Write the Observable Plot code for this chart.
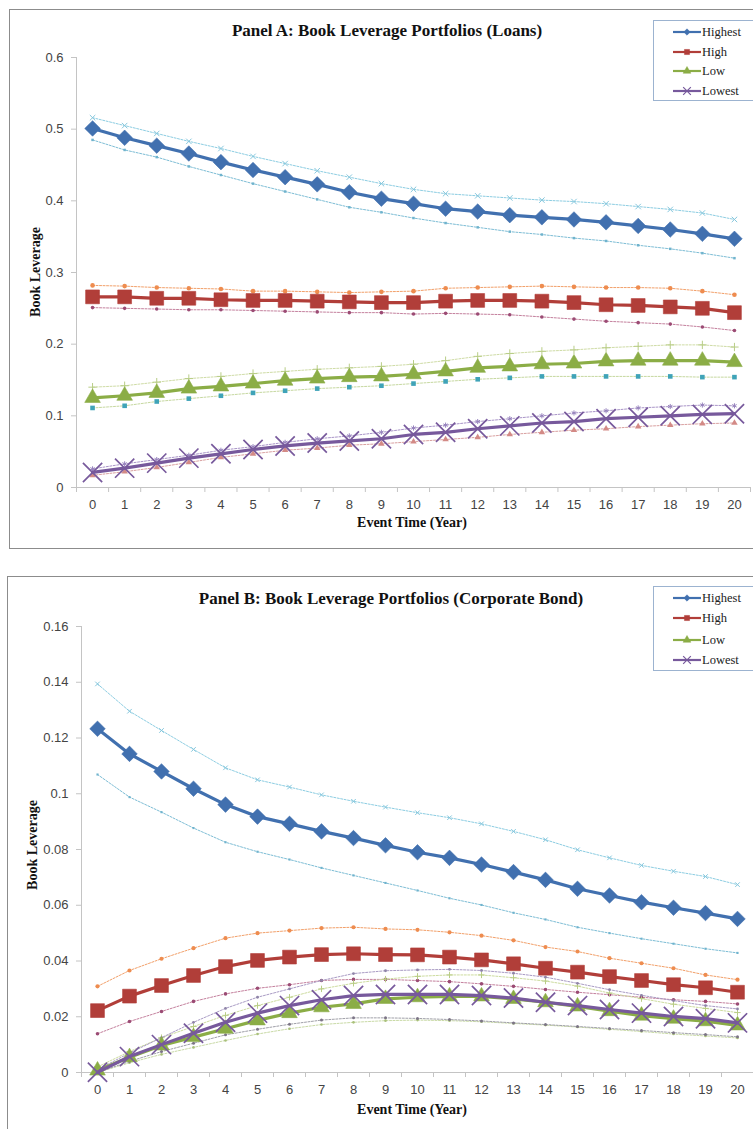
<!DOCTYPE html>
<html><head><meta charset="utf-8">
<script src="https://cdn.jsdelivr.net/npm/d3@7"></script>
<script src="https://cdn.jsdelivr.net/npm/@observablehq/plot@0.6"></script>
<style>
html,body{margin:0;padding:0;background:#fff}
body{width:753px;height:1129px;overflow:hidden;position:relative;font-family:"Liberation Serif",serif}
.frame{position:absolute;border:1.5px solid #8c8c8c;box-sizing:border-box}
.title{position:absolute;font-family:"Liberation Serif",serif;font-weight:bold;font-size:17px;white-space:nowrap;transform:translate(-50%,-50%);color:#111}
.xlab{position:absolute;font-family:"Liberation Serif",serif;font-weight:bold;font-size:14px;white-space:nowrap;transform:translate(-50%,-50%);color:#111}
.ylab{position:absolute;font-family:"Liberation Serif",serif;font-weight:bold;font-size:14px;white-space:nowrap;transform:translate(-50%,-50%) rotate(-90deg);color:#111}
.plot{position:absolute;left:0}
.legend{position:absolute;border:1px solid #9cb3d0;background:#fff;box-sizing:border-box}
.lrow{position:absolute;left:19px;height:16px;display:flex;align-items:center;transform:translateY(-50%);font-size:12.5px;font-family:"Liberation Serif",serif;color:#222;white-space:nowrap}
.lrow svg{display:block;margin-right:1px}
</style>
</head><body>
<div class="frame" style="left:9px;top:9px;width:760px;height:540px"></div>
<div class="frame" style="left:7px;top:576px;width:760px;height:570px"></div>
<div id="plotA" class="plot" style="top:0px"></div>
<div id="plotB" class="plot" style="top:576px"></div>
<div class="title" style="left:387px;top:31px">Panel A: Book Leverage Portfolios (Loans)</div>
<div class="title" style="left:391px;top:599px">Panel B: Book Leverage Portfolios (Corporate Bond)</div>
<div class="xlab" style="left:412px;top:523px">Event Time (Year)</div>
<div class="xlab" style="left:412px;top:1110px">Event Time (Year)</div>
<div class="ylab" style="left:36px;top:272px">Book Leverage</div>
<div class="ylab" style="left:33px;top:845px">Book Leverage</div>
<div id="legA" class="legend" style="left:653px;top:20px;width:110px;height:81px"></div>
<div id="legB" class="legend" style="left:653px;top:586px;width:110px;height:85px"></div>
<script>
// ---- categories ----
const years = [0,1,2,3,4,5,6,7,8,9,10,11,12,13,14,15,16,17,18,19,20];
const seriesNames = ["Highest","High","Low","Lowest"];
const yTicksA = [0,0.1,0.2,0.3,0.4,0.5,0.6];
const yTicksB = [0,0.02,0.04,0.06,0.08,0.1,0.12,0.14,0.16];

// ---- Panel A: Loans ----
const A_highest    = [0.501,0.488,0.477,0.466,0.454,0.443,0.433,0.423,0.412,0.403,0.396,0.389,0.385,0.380,0.377,0.374,0.370,0.365,0.360,0.354,0.347];
const A_highest_up = [0.516,0.505,0.494,0.483,0.473,0.462,0.452,0.442,0.433,0.424,0.416,0.410,0.407,0.404,0.401,0.399,0.396,0.392,0.388,0.383,0.374];
const A_highest_lo = [0.485,0.471,0.461,0.448,0.436,0.424,0.413,0.402,0.391,0.384,0.376,0.369,0.363,0.357,0.353,0.348,0.344,0.338,0.333,0.327,0.320];
const A_high       = [0.266,0.266,0.264,0.264,0.262,0.261,0.261,0.260,0.259,0.258,0.258,0.260,0.261,0.261,0.260,0.258,0.255,0.254,0.252,0.250,0.244];
const A_high_up    = [0.282,0.281,0.279,0.278,0.277,0.274,0.274,0.273,0.272,0.273,0.274,0.278,0.279,0.280,0.281,0.280,0.279,0.279,0.278,0.274,0.269];
const A_high_lo    = [0.251,0.250,0.249,0.248,0.248,0.247,0.246,0.245,0.244,0.244,0.242,0.243,0.242,0.241,0.238,0.235,0.232,0.230,0.228,0.224,0.219];
const A_low        = [0.125,0.128,0.132,0.138,0.141,0.145,0.149,0.152,0.154,0.155,0.158,0.162,0.167,0.169,0.172,0.173,0.176,0.177,0.177,0.177,0.175];
const A_low_up     = [0.140,0.142,0.147,0.152,0.155,0.159,0.162,0.165,0.167,0.169,0.172,0.177,0.183,0.187,0.190,0.192,0.195,0.197,0.199,0.199,0.196];
const A_low_lo     = [0.111,0.114,0.120,0.124,0.128,0.132,0.135,0.138,0.140,0.142,0.145,0.148,0.151,0.153,0.155,0.155,0.155,0.155,0.155,0.154,0.154];
const A_lowest     = [0.021,0.027,0.034,0.041,0.047,0.053,0.058,0.062,0.065,0.068,0.074,0.077,0.082,0.086,0.090,0.092,0.096,0.098,0.100,0.102,0.103];
const A_lowest_up  = [0.026,0.033,0.039,0.045,0.052,0.057,0.063,0.068,0.072,0.077,0.083,0.087,0.092,0.096,0.100,0.104,0.107,0.111,0.113,0.115,0.114];
const A_lowest_lo  = [0.017,0.022,0.028,0.035,0.042,0.047,0.052,0.055,0.059,0.061,0.064,0.067,0.070,0.074,0.077,0.080,0.082,0.085,0.087,0.089,0.090];

// ---- Panel B: Corporate Bond ----
const B_highest    = [0.1233,0.1143,0.1080,0.1018,0.0961,0.0918,0.0892,0.0865,0.0841,0.0815,0.0790,0.0770,0.0746,0.0719,0.0691,0.0659,0.0635,0.0611,0.0591,0.0572,0.0551];
const B_highest_up = [0.1394,0.1296,0.1227,0.1159,0.1093,0.1050,0.1024,0.0996,0.0973,0.0952,0.0932,0.0914,0.0892,0.0865,0.0835,0.0799,0.0770,0.0743,0.0722,0.0703,0.0674];
const B_highest_lo = [0.1069,0.0988,0.0934,0.0877,0.0826,0.0792,0.0764,0.0734,0.0707,0.0680,0.0653,0.0625,0.0601,0.0573,0.0549,0.0521,0.0500,0.0480,0.0462,0.0444,0.0429];
const B_high       = [0.0222,0.0274,0.0312,0.0348,0.0380,0.0402,0.0414,0.0423,0.0426,0.0423,0.0422,0.0414,0.0404,0.0390,0.0374,0.0360,0.0344,0.0330,0.0315,0.0304,0.0288];
const B_high_up    = [0.0309,0.0366,0.0408,0.0446,0.0482,0.0500,0.0509,0.0518,0.0521,0.0515,0.0512,0.0503,0.0491,0.0474,0.0450,0.0434,0.0410,0.0392,0.0374,0.0350,0.0333];
const B_high_lo    = [0.0139,0.0183,0.0219,0.0255,0.0282,0.0302,0.0315,0.0330,0.0334,0.0334,0.0330,0.0326,0.0318,0.0309,0.0298,0.0288,0.0279,0.0270,0.0261,0.0255,0.0246];
const B_low        = [0.0007,0.0055,0.0097,0.0127,0.0157,0.0187,0.0213,0.0234,0.0246,0.0264,0.0270,0.0273,0.0273,0.0264,0.0252,0.0237,0.0220,0.0204,0.0193,0.0184,0.0169];
const B_low_up     = [0.0020,0.0075,0.0125,0.0165,0.0205,0.0240,0.0270,0.0300,0.0320,0.0335,0.0345,0.0350,0.0350,0.0340,0.0328,0.0310,0.0285,0.0265,0.0245,0.0230,0.0215];
const B_low_lo     = [0.0000,0.0035,0.0065,0.0090,0.0115,0.0138,0.0157,0.0172,0.0180,0.0186,0.0188,0.0186,0.0182,0.0176,0.0170,0.0163,0.0155,0.0147,0.0138,0.0131,0.0124];
const B_lowest     = [0.0001,0.0057,0.0100,0.0141,0.0180,0.0213,0.0240,0.0261,0.0276,0.0280,0.0280,0.0280,0.0276,0.0267,0.0252,0.0240,0.0226,0.0213,0.0201,0.0193,0.0178];
const B_lowest_up  = [0.0010,0.0070,0.0125,0.0180,0.0230,0.0270,0.0300,0.0330,0.0355,0.0365,0.0368,0.0370,0.0366,0.0356,0.0342,0.0320,0.0297,0.0277,0.0258,0.0240,0.0228];
const B_lowest_lo  = [0.0000,0.0040,0.0075,0.0105,0.0135,0.0155,0.0173,0.0188,0.0196,0.0196,0.0194,0.0190,0.0185,0.0178,0.0172,0.0165,0.0158,0.0151,0.0143,0.0136,0.0128];

// ---- styles ----
const mainStyle = {
  Highest: {color:"#4170AF", symbol:"diamond2", r:7,   fill:true},
  High:    {color:"#B13E39", symbol:"square",   r:7.8, fill:true},
  Low:     {color:"#8BAD46", symbol:"triangle", r:5.8, fill:true},
  Lowest:  {color:"#77599C", symbol:"times",    r:8.8, fill:false}
};
const bandStyleA = [
  {line:"#8ccde2", mark:"#86c7dd", symbol:"times",    r:2.6, fill:false},
  {line:"#7dbdd5", mark:"#6fb3cd", symbol:"square",   r:1.4, fill:true},
  {line:"#f2a06a", mark:"#ee8c4f", symbol:"circle",   r:2.3, fill:true},
  {line:"#c4809d", mark:"#9b4b74", symbol:"circle",   r:1.8, fill:true},
  {line:"#cfdca6", mark:"#b8cd86", symbol:"plus",     r:2.8, fill:false},
  {line:"#c6d8a0", mark:"#3fa3b8", symbol:"square",   r:2.6, fill:true},
  {line:"#a994c8", mark:"#9682bd", symbol:"asterisk", r:2.4, fill:false},
  {line:"#d9a0a0", mark:"#d38a86", symbol:"triangle", r:2.4, fill:true}
];
const bandStyleB = [
  {line:"#8ccde2", mark:"#86c7dd", symbol:"times",    r:2.2, fill:false},
  {line:"#7dbdd5", mark:"#6fb3cd", symbol:"square",   r:1.2, fill:true},
  {line:"#f2a06a", mark:"#ee8c4f", symbol:"circle",   r:2.1, fill:true},
  {line:"#c4809d", mark:"#9b4b74", symbol:"circle",   r:1.8, fill:true},
  {line:"#cddc9f", mark:"#b9cd86", symbol:"plus",     r:2.2, fill:false},
  {line:"#c9daa6", mark:"#a9c07a", symbol:"circle",   r:1.3, fill:true},
  {line:"#a99bc4", mark:"#8f84a8", symbol:"circle",   r:1.4, fill:true},
  {line:"#a0a0a8", mark:"#7c7486", symbol:"circle",   r:1.5, fill:true}
];

function rows(vals){ return years.map((t,i)=>({t, v: vals[i]})); }

function bandMarks(vals, st){
  const d = rows(vals);
  return [
    Plot.line(d, {x:"t", y:"v", stroke:st.line, strokeWidth:1, strokeDasharray:"2,1.5"}),
    Plot.dot(d, {x:"t", y:"v", symbol: st.symbol, r: st.r,
      fill: st.fill ? st.mark : "none", stroke: st.fill ? "none" : st.mark, strokeWidth:1})
  ];
}
function mainMarks(vals, st){
  const d = rows(vals);
  return [
    Plot.line(d, {x:"t", y:"v", stroke:st.color, strokeWidth:3.2}),
    Plot.dot(d, {x:"t", y:"v", symbol: st.symbol, r: st.r,
      fill: st.fill ? st.color : "none", stroke: st.color, strokeWidth: st.fill ? 0.6 : 1.7})
  ];
}

function panel(opts){
  const {height, top, bottom, left, right, yMax, yTicks, bands, mains, bstyle} = opts;
  const boundaries = d3.range(-0.5, 21, 1);
  return Plot.plot({
    width:753, height, marginTop:top, marginBottom:bottom, marginLeft:left, marginRight:right,
    x:{domain:[-0.5,20.5], axis:null, label:null},
    y:{domain:[0,yMax], axis:null, label:null},
    style:{background:"transparent", fontFamily:"'Liberation Sans', Arial, sans-serif", fontSize:"13px", overflow:"visible"},
    marks:[
      Plot.ruleX([-0.5], {stroke:"#c4c4c4", strokeWidth:1}),
      Plot.ruleY([0], {stroke:"#c4c4c4", strokeWidth:1}),
      Plot.axisY({ticks:yTicks, tickSize:5, tickFormat:()=>"", color:"#c4c4c4", label:null}),
      Plot.axisY({ticks:yTicks, tickSize:0, tickPadding:13, tickFormat:d=>String(d), color:"#444", fontSize:13, label:null}),
      Plot.axisX({ticks:boundaries, tickSize:5, tickFormat:()=>"", color:"#c4c4c4", label:null}),
      Plot.axisX({ticks:years, tickSize:0, tickPadding:12, tickFormat:d=>String(d), color:"#444", fontSize:13, label:null}),
      ...bands.flatMap((b,i)=>bandMarks(b, bstyle[i])),
      ...mains.flatMap((m,i)=>mainMarks(m, mainStyle[seriesNames[i]]))
    ]
  });
}

document.getElementById("plotA").append(panel({
  height:549, top:57, bottom:62, left:76, right:3, yMax:0.6, yTicks:yTicksA,
  bands:[A_highest_up, A_highest_lo, A_high_up, A_high_lo, A_low_up, A_low_lo, A_lowest_up, A_lowest_lo],
  mains:[A_highest, A_high, A_low, A_lowest], bstyle: bandStyleA
}));
document.getElementById("plotB").append(panel({
  height:553, top:50, bottom:57, left:81, right:0, yMax:0.16, yTicks:yTicksB,
  bands:[B_highest_up, B_highest_lo, B_high_up, B_high_lo, B_low_up, B_low_lo, B_lowest_up, B_lowest_lo],
  mains:[B_highest, B_high, B_low, B_lowest], bstyle: bandStyleB
}));

// ---- legends ----
function symbolPath(name, size){
  const map = {diamond2:d3.symbolDiamond2, square:d3.symbolSquare, triangle:d3.symbolTriangle, times:d3.symbolTimes};
  return d3.symbol(map[name], size)();
}
function legend(id, rowsY){
  const el = document.getElementById(id);
  seriesNames.forEach((name,i)=>{
    const st = mainStyle[name];
    const row = document.createElement("div");
    row.className = "lrow";
    row.style.top = rowsY[i] + "px";
    const ns = "http://www.w3.org/2000/svg";
    const svg = document.createElementNS(ns, "svg");
    svg.setAttribute("width", 28); svg.setAttribute("height", 12);
    const ln = document.createElementNS(ns, "line");
    ln.setAttribute("x1",0); ln.setAttribute("x2",28); ln.setAttribute("y1",6); ln.setAttribute("y2",6);
    ln.setAttribute("stroke", st.color); ln.setAttribute("stroke-width", 2.2);
    svg.append(ln);
    const p = document.createElementNS(ns, "path");
    p.setAttribute("d", symbolPath(st.symbol, st.symbol==="times"?40:26));
    p.setAttribute("transform","translate(14,6)");
    p.setAttribute("fill", st.fill ? st.color : "none");
    p.setAttribute("stroke", st.color);
    p.setAttribute("stroke-width", st.fill ? 0.5 : 1.2);
    svg.append(p);
    row.append(svg);
    row.append(document.createTextNode(name));
    el.append(row);
  });
}
legend("legA", [11,31,50,70]);
legend("legB", [11,31,53,73]);
</script>
</body></html>
